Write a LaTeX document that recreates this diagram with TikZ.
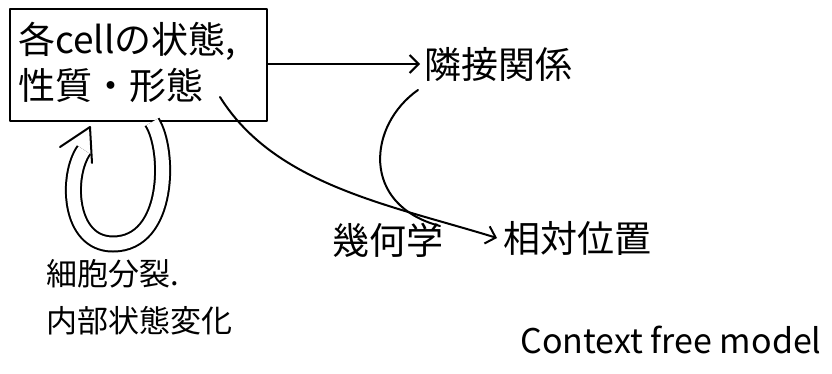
\documentclass[tikz,border=0pt]{standalone}
\usepackage{fontspec}
\newfontfamily\cjk{Noto Sans CJK JP}
\usetikzlibrary{arrows.meta}
\tikzset{
  ink/.style={line width=2pt, black, line cap=round, line join=round},
  arr/.style={ink, -{Straight Barb[length=9pt,width=18pt,line width=2pt]}},
  jtext/.style={font=\cjk\fontsize{37}{46}\selectfont, inner sep=0pt},
  jsmall/.style={font=\cjk\fontsize{31}{40}\selectfont, inner sep=0pt, anchor=west},
}
\begin{document}
\begin{tikzpicture}[x=1pt,y=-1pt]
\useasboundingbox (0,0) rectangle (832,374);
% box
\node[ink, draw, minimum width=257pt, minimum height=112pt, inner sep=0pt] (box) at (138,65) {};
\node[jtext, anchor=north west, align=left] (boxtxt) at (18,22) {各cellの状態,\\性質・形態};
% targets
\node[jtext, anchor=west] (rel) at (424,64) {隣接関係};
\node[jtext, anchor=west] (pos) at (503,238) {相対位置};
\node[jtext] (geo) at (388,240) {幾何学};
\node[jsmall] (div1) at (46,274) {細胞分裂.};
\node[jsmall] (div2) at (46,321) {内部状態変化};
\node[font=\cjk\fontsize{34}{40}\selectfont, inner sep=0pt] (ctx) at (671,340) {Context free model};
% arrow to rel
\draw[arr] (box.east |- rel.west) -- ([xshift=-4pt]rel.west);
% curve from box to pos
\coordinate (c1) at (220,97);
\draw[arr] (c1) .. controls (275,185) and (390,205) .. ([xshift=-6pt]pos.west);
% curve from rel merging
\coordinate (c2) at (418,90);
\coordinate (m) at (440,226);
\draw[ink] (c2) .. controls (368,125) and (360,205) .. (m);
% loop
\coordinate (l0) at ([xshift=14pt]box.south);
\coordinate (l1) at (84,150);
\draw[line width=2pt, double=white, double distance=13pt] (l0) .. controls (170,150) and (170,244) .. (113,244) .. controls (68,244) and (66,175) .. (l1);
\coordinate (tw1) at (60,147);
\coordinate (tip) at (90,127);
\coordinate (tw2) at (92,163);
\draw[ink] (tw1) -- (tip) -- (tw2);
\end{tikzpicture}
\end{document}
